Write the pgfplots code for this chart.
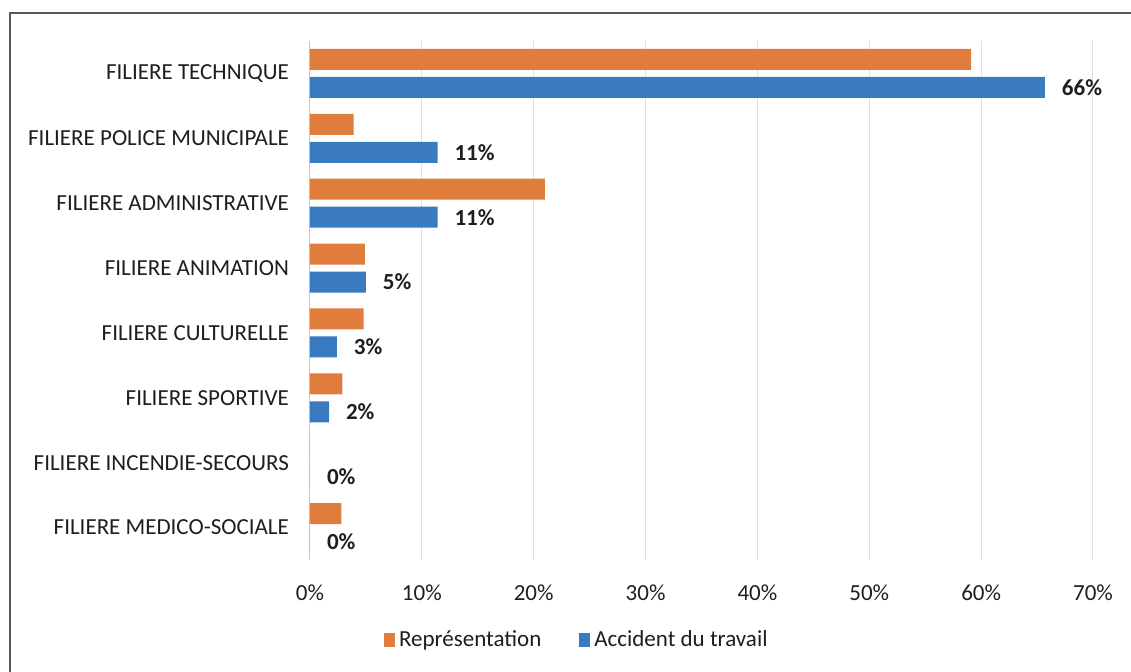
\documentclass[border=0pt]{standalone}
\usepackage{pgfplots}
\pgfplotsset{compat=1.18}
\usepackage{pgfplotstable}
\usepackage{fontspec}
\setmainfont{Carlito}
\definecolor{repr}{RGB}{224,125,60}
\definecolor{acc}{RGB}{58,122,192}
\definecolor{txt}{RGB}{30,30,30}
\pgfplotstableread{
y rep
0 59.1
1 3.9
2 21.0
3 4.9
4 4.8
5 2.9
6 0
7 2.8
}\rep
\pgfplotstableread{
y acc lab
0 65.7 66\%
1 11.4 11\%
2 11.4 11\%
3 5.0 5\%
4 2.4 3\%
5 1.7 2\%
6 0 0\%
7 0 0\%
}\acc
\begin{document}
\begin{tikzpicture}
\useasboundingbox (0,0) rectangle (565.5pt,336pt);
\draw[gray!70!black, line width=0.6pt] (5pt,0) -- (5pt,329.5pt) -- (565.5pt,329.5pt);
\begin{axis}[
  at={(155pt,56pt)}, anchor=south west,
  scale only axis, width=391.5pt, height=259.5pt,
  xmin=0, xmax=70, ymin=-0.5, ymax=7.5, y dir=reverse,
  xbar, bar width=10.5pt,
  axis line style={draw=none},
  xtick={0,10,...,70},
  xticklabels={0\%,10\%,20\%,30\%,40\%,50\%,60\%,70\%},
  ytick={0,...,7},
  yticklabels={FILIERE TECHNIQUE,FILIERE POLICE MUNICIPALE,FILIERE ADMINISTRATIVE,FILIERE ANIMATION,FILIERE CULTURELLE,FILIERE SPORTIVE,FILIERE INCENDIE-SECOURS,FILIERE MEDICO-SOCIALE},
  major tick length=0pt,
  xmajorgrids, grid style={gray!25, line width=0.5pt},
  extra x ticks={0}, extra x tick labels={}, extra x tick style={grid style={gray!45}},
  ticklabel style={font=\fontsize{11.5}{13}\selectfont, text=txt},
  xticklabel style={yshift=-9pt},
  yticklabel style={xshift=-7pt},
  legend style={at={(0.342,-0.154)}, anchor=center, draw=none, legend columns=2,
    font=\fontsize{11.5}{13}\selectfont, text=txt,
    /tikz/every even column/.append style={column sep=17pt}},
  legend image code/.code={\fill[#1] (0pt,-3.5pt) rectangle (5.5pt,3.5pt);},
]
\addplot[fill=repr, draw=none, bar shift=7pt] table[x=rep, y=y] {\rep};
\addlegendentry{Représentation}
\addplot[fill=acc, draw=none, bar shift=-7pt,
  nodes near coords, point meta=explicit symbolic,
  every node near coord/.style={anchor=west, font=\bfseries\fontsize{11.5}{13}\selectfont, text=txt, xshift=5pt, yshift=-7pt}]
  table[x=acc, y=y, meta=lab] {\acc};
\addlegendentry{Accident du travail}
\end{axis}
\end{tikzpicture}
\end{document}
